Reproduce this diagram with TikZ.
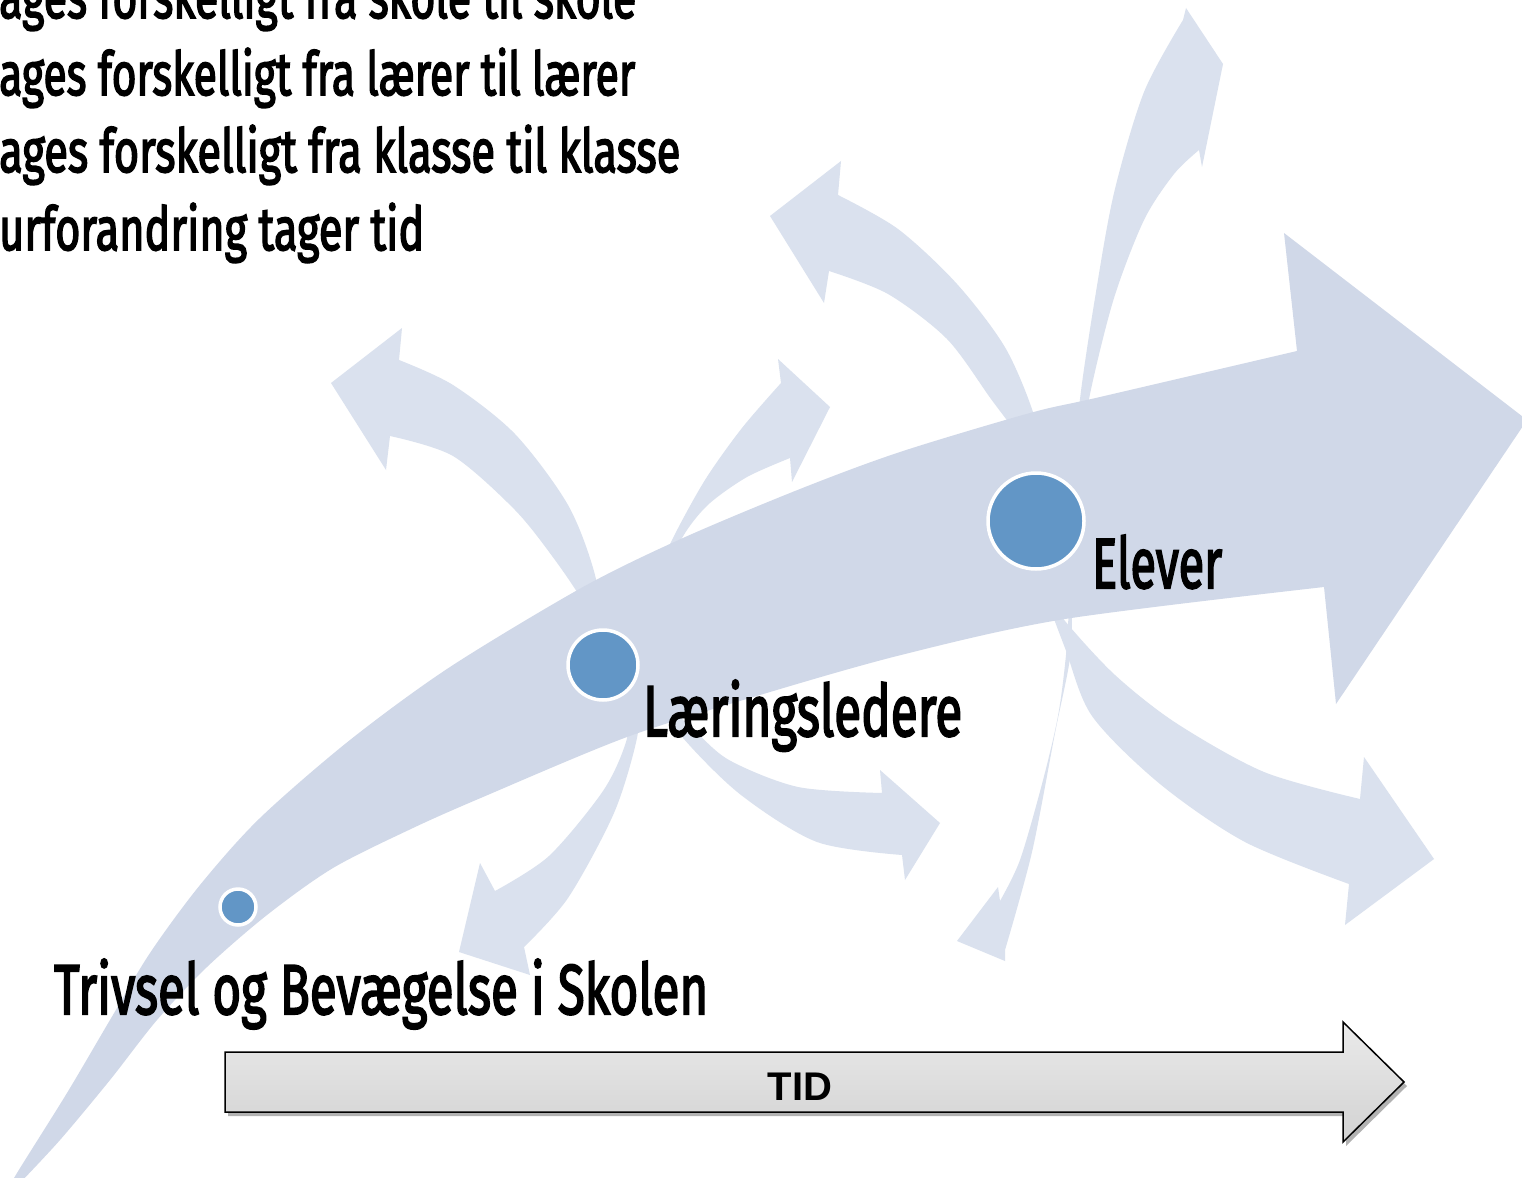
\documentclass[tikz,border=0pt]{standalone}
\usepackage{fontspec}
\setmainfont{Fira Sans}
\newfontfamily\lblfont[FakeBold=3]{Fira Sans}
\newfontfamily\tidfont{Liberation Sans}
\usepackage{graphicx}
\definecolor{mainc}{RGB}{208,216,232}
\definecolor{smallc}{RGB}{218,225,238}
\definecolor{dotc}{RGB}{98,150,198}
\definecolor{tidtop}{RGB}{234,234,234}
\definecolor{tidbot}{RGB}{210,210,210}
\begin{document}
\begin{tikzpicture}[x=1pt,y=-1pt,
  smallarrow/.style={fill=smallc},
  mainarrow/.style={fill=mainc},
  dotnode/.style={circle, fill=dotc, draw=white, line width=3.5pt, inner sep=0pt},
  lbl/.style={anchor=base west, inner sep=0pt, font=\lblfont},
  tidlbl/.style={font=\tidfont\bfseries\fontsize{40}{40}\selectfont, inner sep=0pt}]
\clip (0,0) rectangle (1522,1177);
\fill[white] (0,0) rectangle (1522,1177);

% ---------- small arrows around Laeringsledere ----------
% up-left
\fill[smallarrow] plot[smooth] coordinates {(605,645) (595,575) (568,505) (515,434) (453,385) (399,360)}
  -- (402,328) -- (331,383) -- (386,470) -- (390,436)
  -- plot[smooth] coordinates {(390,436) (453,456) (515,510) (555,560) (585,605) (603,645)} -- cycle;
% up-right
\fill[smallarrow] plot[smooth] coordinates {(632,660) (648,595) (672,540) (705,480) (742,428) (781,383)}
  -- (778,359) -- (830,407) -- (792,482) -- (790,458)
  -- plot[smooth] coordinates {(790,458) (747,477) (710,503) (687,530) (665,570) (645,620) (635,660)} -- cycle;
% down-left
\fill[smallarrow] plot[smooth] coordinates {(640,690) (637,738) (614,813) (568,898) (524,947)}
  -- (530,975) -- (459,952) -- (480,863) -- (495,891)
  -- plot[smooth] coordinates {(495,891) (549,856) (603,791) (626,742) (635,690)} -- cycle;
% down-right
\fill[smallarrow] plot[smooth] coordinates {(650,690) (691,727) (729,760) (798,787) (882,793)}
  -- (880,770) -- (940,823) -- (905,880) -- (902,855)
  -- plot[smooth] coordinates {(902,855) (817,842) (741,795) (683,738) (650,690)} -- cycle;

% ---------- small arrows around Elever ----------
% up-left
\fill[smallarrow] plot[smooth] coordinates {(1040,475) (1036,422) (1006,349) (957,284) (898,229) (838,195)}
  -- (841,161) -- (770,216) -- (824,303) -- (829,271)
  -- plot[smooth] coordinates {(829,271) (888,294) (947,339) (991,399) (1021,440) (1038,475)} -- cycle;
% up (narrow)
\fill[smallarrow] plot[smooth] coordinates {(1073,485) (1080,399) (1095,298) (1114,193) (1144,92) (1183,20)}
  -- (1186,8) -- (1223,64) -- (1202,167) -- (1199,150)
  -- plot[smooth] coordinates {(1199,150) (1174,174) (1144,220) (1114,298) (1090,394) (1075,485)} -- cycle;
% down-right
\fill[smallarrow] plot[smooth] coordinates {(1042,587) (1065,621) (1115,675) (1176,723) (1264,772) (1360,799)}
  -- (1364,757) -- (1434,859) -- (1345,925) -- (1349,884)
  -- plot[smooth] coordinates {(1349,884) (1245,842) (1160,784) (1092,716) (1065,648) (1042,587)} -- cycle;
% down-left (narrow)
\fill[smallarrow] plot[smooth] coordinates {(1072,605) (1070,658) (1055,733) (1032,852) (1005,950)}
  -- (1005,961) -- (957,941) -- (998,887) -- (1000,901)
  -- plot[smooth] coordinates {(1000,901) (1020,860) (1042,784) (1058,716) (1066,655) (1069,605)} -- cycle;

% ---------- main curved arrow ----------
\fill[mainarrow] plot[smooth] coordinates {(18,1185) (60,1140) (110,1080) (157,1020) (207,967) (267,915) (333,868) (413,828) (483,797) (627,737) (760,695) (901,655) (1065,619) (1324,587)}
  -- (1336,704) -- (1527,420) -- (1284,233) -- (1297,351)
  -- plot[smooth] coordinates {(1297,351) (1100,397) (1030,413) (900,452) (800,489) (683,538) (583,587) (450,667) (350,740) (260,818) (200,885) (150,953) (110,1020) (67,1093) (17,1173) (5,1195)}
  -- (18,1185) -- cycle;

% ---------- dots ----------
\node[dotnode, minimum size=36pt] (d1) at (238,907) {};
\node[dotnode, minimum size=70pt] (d2) at (603,665) {};
\node[dotnode, minimum size=96pt] (d3) at (1036,521) {};

% ---------- labels ----------
\node[lbl] (trivsel) at (54,1014) {\resizebox{654pt}{55pt}{Trivsel og Bevægelse i Skolen}};
\node[lbl] (laer) at (643,736) {\resizebox{319pt}{56pt}{Læringsledere}};
\node[lbl] (elever) at (1092,588) {\resizebox{130pt}{53pt}{Elever}};

% ---------- top text lines ----------
\node[lbl] (l1) at (-1,18) {\resizebox{637pt}{47pt}{ages forskelligt fra skole til skole}};
\node[lbl] (l2) at (-1,95) {\resizebox{636pt}{47pt}{ages forskelligt fra lærer til lærer}};
\node[lbl] (l3) at (-1,172) {\resizebox{681pt}{47pt}{ages forskelligt fra klasse til klasse}};
\node[lbl] (l4) at (-1,250) {\resizebox{425pt}{47pt}{urforandring tager tid}};

% ---------- TID arrow ----------
\fill[black, opacity=0.3] (228,1056) -- (1346,1056) -- (1346,1026) -- (1407,1086) -- (1346,1146) -- (1346,1116) -- (228,1116) -- cycle;
\shade[top color=tidtop, bottom color=tidbot]
  (225,1052) -- (1343,1052) -- (1343,1022) -- (1404,1082) -- (1343,1142) -- (1343,1112) -- (225,1112) -- cycle;
\draw[black, line width=1.5pt, line join=miter]
  (225,1052) -- (1343,1052) -- (1343,1022) -- (1404,1082) -- (1343,1142) -- (1343,1112) -- (225,1112) -- cycle;
\node[tidlbl] (tid) at (800,1087) {TID};
\end{tikzpicture}
\end{document}
